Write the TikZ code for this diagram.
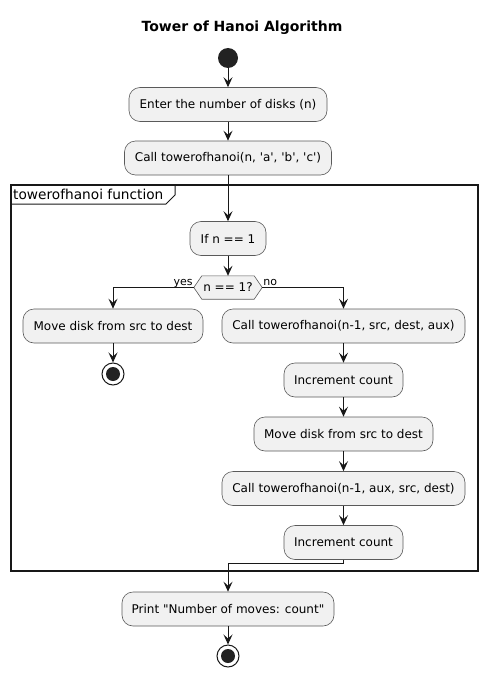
\documentclass[tikz,border=0pt]{standalone}
\usepackage{fontspec}
\setmainfont{DejaVu Sans}[Ligatures=TeXOff]
\usetikzlibrary{arrows.meta,backgrounds,calc}
\definecolor{boxfill}{HTML}{F1F1F1}
\definecolor{boxline}{HTML}{5A5A5A}
\definecolor{ink}{HTML}{181818}
\definecolor{dot}{HTML}{222222}
\tikzset{
  act/.style={draw=boxline, line width=0.6pt, fill=boxfill, rounded corners=11pt,
    minimum height=34pt, inner sep=0pt, font=\fontsize{12}{14}\selectfont},
  arr/.style={draw=ink, line width=1pt, -{Stealth[length=10pt,width=9pt,inset=4pt]}},
  startdot/.style={circle, fill=dot, minimum size=20pt, inner sep=0pt},
  stopring/.style={circle, draw=ink, line width=1pt, fill=white, minimum size=22pt, inner sep=0pt},
  hexshape/.style={draw=boxline, line width=0.6pt, fill=boxfill},
  smalllab/.style={font=\fontsize{11}{13}\selectfont, inner sep=0pt},
}
\begin{document}
\begin{tikzpicture}[x=1pt,y=-1pt]
\useasboundingbox (0,0) rectangle (487,677);
\node[font=\bfseries\fontsize{14}{16}\selectfont] (title) at (242,28) {Tower of Hanoi Algorithm};
\node[startdot] (start) at (228,58) {};
\node[act, minimum width=198pt] (b1) at (228,104.5) {Enter the number of disks (n)};
\node[act, minimum width=207pt] (b2) at (228,158) {Call towerofhanoi(n, 'a', 'b', 'c')};
% frame
\draw[ink, line width=1.3pt] (11,185) rectangle (478,571);
\draw[ink, line width=1pt] (11,204) -- (166,204) -- (175,195) -- (175,185);
\node[anchor=west, inner sep=0pt, font=\fontsize{13.7}{15}\selectfont] (flabel) at (13,194) {towerofhanoi function};
\node[act, minimum width=76pt] (b3) at (228,238.5) {If n == 1};
\node[minimum width=68pt, minimum height=23pt, inner sep=0pt, font=\fontsize{12}{14}\selectfont] (dec) at (228,287.5) {n == 1?};
\begin{scope}[on background layer]
\draw[hexshape] (dec.west) -- ($(dec.north west)+(8,0)$) -- ($(dec.north east)+(-8,0)$) -- (dec.east) -- ($(dec.south east)+(-8,0)$) -- ($(dec.south west)+(8,0)$) -- cycle;
\end{scope}
\node[smalllab, anchor=base east] (yes) at ($(dec.west)+(-1,-2.5)$) {yes};
\node[smalllab, anchor=base west] (no) at ($(dec.east)+(1,-2.5)$) {no};
\node[act, minimum width=180pt] (b4) at (113,326) {Move disk from src to dest};
\node[stopring] (stop1) at (113,374) {};
\fill[dot] (stop1.center) circle (7pt);
\node[act, minimum width=243pt] (b5) at (343.5,326) {Call towerofhanoi(n-1, src, dest, aux)};
\node[act, minimum width=119pt] (b6) at (343.5,380) {Increment count};
\node[act, minimum width=179pt] (b7) at (343.5,434) {Move disk from src to dest};
\node[act, minimum width=243pt] (b8) at (343.5,488.5) {Call towerofhanoi(n-1, aux, src, dest)};
\node[act, minimum width=119pt] (b9) at (343.5,542.5) {Increment count};
\node[act, minimum width=212pt] (b10) at (228,609) {Print "Number of moves: count"};
\node[stopring] (stop2) at (228,656) {};
\fill[dot] (stop2.center) circle (7pt);
% connectors
\draw[arr] (start) -- (b1);
\draw[arr] (b1) -- (b2);
\draw[arr] (b2) -- (b3);
\draw[arr] (b3) -- (dec);
\draw[arr] (dec.west) -| (b4.north);
\draw[arr] (dec.east) -| (b5.north);
\draw[arr] (b4) -- (stop1);
\draw[arr] (b5) -- (b6);
\draw[arr] (b6) -- (b7);
\draw[arr] (b7) -- (b8);
\draw[arr] (b8) -- (b9);
\draw[arr] (b9.south) -- ++(0,4) -| (b10.north);
\draw[arr] (b10) -- (stop2);
\end{tikzpicture}
\end{document}
